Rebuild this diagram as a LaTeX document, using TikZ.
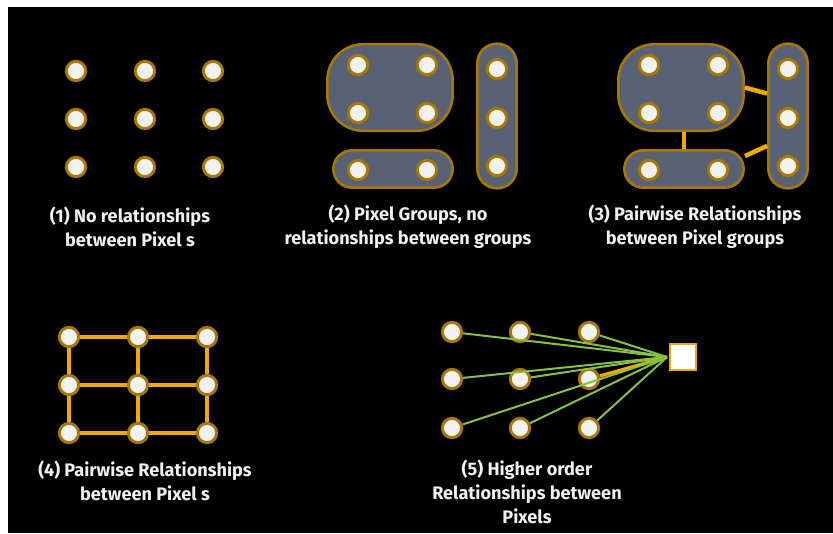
\documentclass[tikz,border=0pt]{standalone}
\usepackage{fontspec}
\setmainfont{Fira Sans}
\usetikzlibrary{positioning, calc}
\definecolor{pixFill}{HTML}{F2F2F2}
\definecolor{pixRing}{HTML}{A87800}
\definecolor{linkOrange}{HTML}{F0AA00}
\definecolor{linkGreen}{HTML}{86C23F}
\definecolor{groupSlate}{HTML}{596175}
\definecolor{capWhite}{HTML}{F0F0F0}

\begin{document}
\begin{tikzpicture}[x=0.75pt, y=-0.75pt,
    pix/.style={circle, fill=pixFill, draw=pixRing, line width=2.2pt,
                minimum size=14.5pt, inner sep=0pt},
    group/.style={rectangle, fill=groupSlate, draw=pixRing, line width=1.9pt,
                  inner sep=0pt},
    hub/.style={rectangle, fill=white, draw=linkOrange, line width=2.2pt,
                minimum size=19.5pt, inner sep=0pt},
    pair/.style={draw=linkOrange, line width=3.4pt},
    higher/.style={draw=linkGreen, line width=1.5pt},
    caption/.style={align=center, text=capWhite,
                    font=\bfseries\fontsize{13.6}{17.8}\selectfont},
  ]
  \useasboundingbox (0,0) rectangle (833,533);
  \fill[white] (0,0) rectangle (833,533);
  \fill[black] (8,7) rectangle (833,533);

  % (1) loose pixels
  \foreach \x [count=\i] in {76,145,213}
    \foreach \y [count=\j] in {71,119,167}
      \node[pix] (a\i\j) at (\x,\y) {};
  \node[caption] (cap1) at (130,227) {(1) No relationships\\between Pixel s};

  % (2) and (3) pixel groups
  \foreach \dx/\p in {0/b, 291/c} {
    \node[group, minimum width=94pt, minimum height=65pt, rounded corners=27pt]
      (big\p) at (390+\dx,87.5) {};
    \node[group, minimum width=89.5pt, minimum height=28pt, rounded corners=14pt]
      (low\p) at (393+\dx,169) {};
    \node[group, minimum width=29.5pt, minimum height=108.5pt, rounded corners=14.7pt]
      (side\p) at (497+\dx,116) {};
    \foreach \x/\y [count=\k] in {358/65, 427/65, 358/113, 427/113,
                                  358/170, 427/170, 497/69, 497/118, 497/166}
      \node[pix] (\p\k) at (\x+\dx,\y) {};
  }
  \draw[pair] (bigc.east) -- (sidec.133);
  \draw[pair] (lowc.north) -- (lowc.north |- bigc.south);
  \draw[pair] (lowc.12) -- (sidec.235);
  \node[caption] (cap2) at (408,227) {(2) Pixel Groups, no\\relationships between groups};
  \node[caption] (cap3) at (695,227) {(3) Pairwise Relationships\\between Pixel groups};

  % (4) grid of pairwise links
  \foreach \x [count=\i] in {69,138,207}
    \foreach \y [count=\j] in {337,385,433}
      \node[pix] (d\i\j) at (\x,\y) {};
  \foreach \i/\n in {1/2, 2/3} {
    \foreach \j in {1,2,3} {
      \draw[pair] (d\i\j) -- (d\n\j);
      \draw[pair] (d\j\i) -- (d\j\n);
    }
  }
  \node[caption] (cap4) at (145,481) {(4) Pairwise Relationships\\between Pixel s};

  % (5) one factor tied to many pixels
  \foreach \x [count=\i] in {452,520,589}
    \foreach \y [count=\j] in {332,379,428}
      \node[pix] (e\i\j) at (\x,\y) {};
  \node[hub] (hub) at (683,357) {};
  \coordinate (tie) at ($(hub.west)+(-1.5,0)$);
  \draw[linkOrange, line width=2.4pt] (e32) -- (tie);
  \foreach \n in {e11,e21,e31,e12,e22,e13,e23,e33}
    \draw[higher] (\n) -- (tie);
  \node[caption] (cap5) at (527,492) {(5) Higher order\\Relationships between\\Pixels};
\end{tikzpicture}
\end{document}
